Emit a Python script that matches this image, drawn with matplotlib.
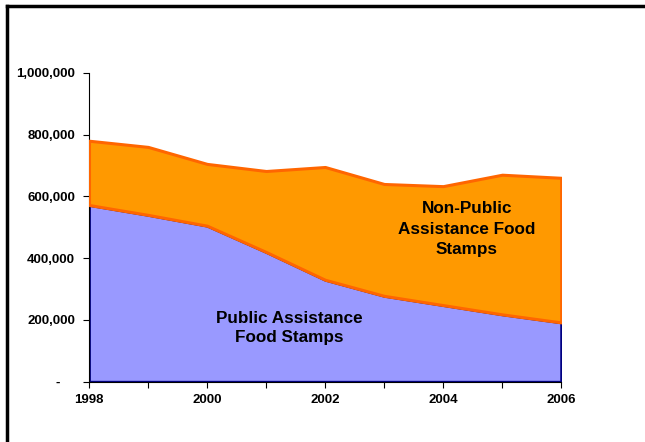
import matplotlib
matplotlib.use('Agg')
import matplotlib.pyplot as plt
from matplotlib.lines import Line2D
from matplotlib.ticker import FuncFormatter, MultipleLocator

years = [1998, 1999, 2000, 2001, 2002, 2003, 2004, 2005, 2006]
public_assistance = [572000, 540000, 505000, 420000, 330000, 278000, 248000, 218000, 192000]
total_recipients = [780000, 760000, 705000, 682000, 695000, 640000, 633000, 670000, 660000]

plt.rcParams['font.family'] = ['Liberation Sans', 'DejaVu Sans']
plt.rcParams['font.weight'] = 'bold'

fig = plt.figure(figsize=(6.45, 4.42), dpi=100)
ax = fig.add_axes([0.138, 0.1364, 0.732, 0.699])

# stacked areas
ax.fill_between(years, 0, public_assistance, facecolor='#9999FF',
                edgecolor='#000080', linewidth=2.0, zorder=2)
ax.fill_between(years, public_assistance, total_recipients, facecolor='#FF9900',
                edgecolor='#FF6600', linewidth=2.2, zorder=3)

ax.set_xlim(1998, 2006)
ax.set_ylim(0, 1000000)
ax.set_xticks(years)
ax.set_xticklabels([str(y) if y % 2 == 0 else '' for y in years])
ax.yaxis.set_major_locator(MultipleLocator(200000))
ax.yaxis.set_major_formatter(FuncFormatter(lambda v, p: '-    ' if v == 0 else f'{v:,.0f}'))
ax.tick_params(axis='both', labelsize=9.5, length=4, width=0.8, direction='out')
ax.tick_params(axis='x', pad=4.5)
ax.tick_params(axis='y', pad=6)

for side in ['top', 'right']:
    ax.spines[side].set_visible(False)
for side in ['left', 'bottom']:
    ax.spines[side].set_linewidth(0.8)

ax.text(2004.4, 494000, 'Non-Public\nAssistance Food\nStamps', ha='center', va='center',
        fontsize=12.3, fontweight='bold', linespacing=1.45, zorder=5)
ax.text(2001.4, 174000, 'Public Assistance\nFood Stamps', ha='center', va='center',
        fontsize=12.3, fontweight='bold', linespacing=1.4, zorder=5)

# frame lines along the top and left of the figure
fig.add_artist(Line2D([6.5 / 645, 1.0], [1 - 5.5 / 442, 1 - 5.5 / 442],
                      color='black', linewidth=2.5, transform=fig.transFigure))
fig.add_artist(Line2D([6.5 / 645, 6.5 / 645], [0.0, 1 - 5.5 / 442],
                      color='black', linewidth=2.5, transform=fig.transFigure))

fig.savefig('out.png', dpi=100)
plt.close(fig)
